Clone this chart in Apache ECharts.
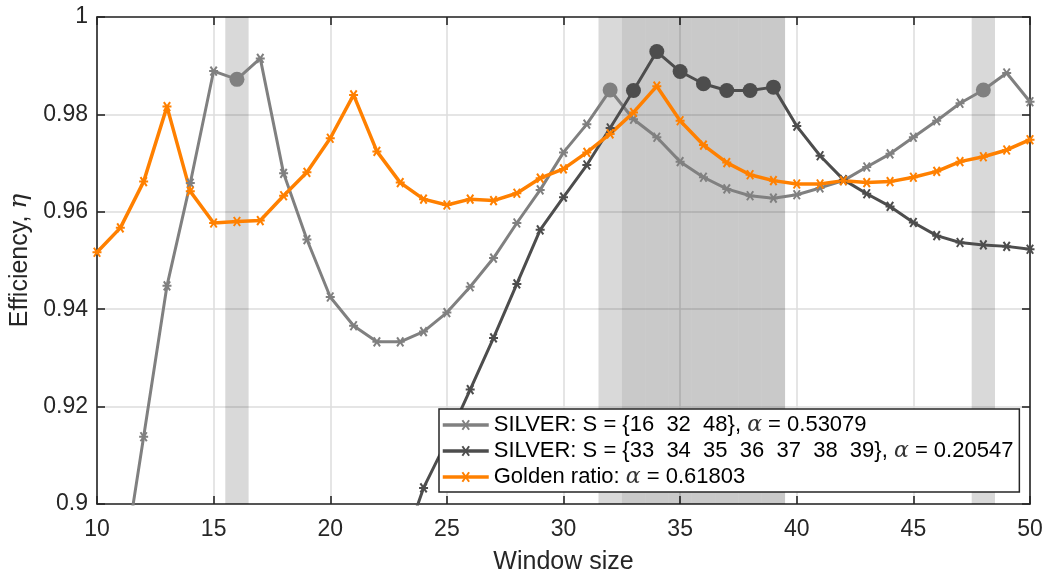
<!DOCTYPE html>
<html>
<head>
<meta charset="utf-8">
<script src="https://cdn.jsdelivr.net/npm/echarts@6/dist/echarts.min.js"></script>
<style>
  html, body { margin: 0; padding: 0; background: #fff; }
  #chart { width: 1044px; height: 571px; }
</style>
</head>
<body>
<div id="chart"></div>
<script>
const windowSize = [10, 11, 12, 13, 14, 15, 16, 17, 18, 19, 20, 21, 22, 23, 24, 25, 26, 27, 28, 29,
  30, 31, 32, 33, 34, 35, 36, 37, 38, 39, 40, 41, 42, 43, 44, 45, 46, 47, 48, 49, 50];

const silverA = [0.852, 0.883, 0.9138, 0.9448, 0.9659, 0.9889, 0.9872, 0.9915, 0.9679, 0.9543,
  0.9425, 0.9366, 0.9333, 0.9333, 0.9354, 0.9393, 0.9446, 0.9505, 0.9577, 0.9645,
  0.9722, 0.978, 0.985, 0.979, 0.9753, 0.9703, 0.9671, 0.9647, 0.9633, 0.9628,
  0.9635, 0.9649, 0.9664, 0.9692, 0.9719, 0.9753, 0.9787, 0.9823, 0.985, 0.9885, 0.9826];

const silverB = [null, null, null, null, null, null, null, null, null, null,
  null, null, 0.876, 0.8895, 0.9033, 0.913, 0.9235, 0.9341, 0.9452, 0.9563,
  0.963, 0.9696, 0.9772, 0.9849, 0.9929, 0.9888, 0.9863, 0.9849, 0.9849, 0.9856,
  0.9776, 0.9715, 0.9666, 0.9637, 0.9611, 0.9578, 0.9551, 0.9537, 0.9532, 0.9529, 0.9523];

const golden = [0.9517, 0.9567, 0.9662, 0.9816, 0.9642, 0.9577, 0.958, 0.9582, 0.9633, 0.9681,
  0.9751, 0.984, 0.9724, 0.966, 0.9626, 0.9614, 0.9626, 0.9623, 0.9638, 0.9669,
  0.9688, 0.9722, 0.976, 0.9804, 0.9858, 0.9787, 0.9737, 0.9701, 0.9676, 0.9664,
  0.9657, 0.9657, 0.9664, 0.966, 0.9662, 0.9671, 0.9683, 0.9703, 0.9713, 0.9727, 0.9748];

const setA = [16, 32, 48];
const setB = [33, 34, 35, 36, 37, 38, 39];

const names = [
  'SILVER: S = {16  32  48}, α = 0.53079',
  'SILVER: S = {33  34  35  36  37  38  39}, α = 0.20547',
  'Golden ratio: α = 0.61803'
];
const colors = ['#808080', '#4d4d4d', '#ff8000'];

const star = 'path://M0,5L10,5M1.5,1.5L8.5,8.5M1.5,8.5L8.5,1.5';
const font = '"Liberation Sans", Arial, Helvetica, sans-serif';
const serif = '"DejaVu Serif", "Liberation Serif", serif';
const ink = '#262626';

function points(vals, set, color) {
  return windowSize.map((x, i) => {
    if (set && set.includes(x)) {
      return { value: [x, vals[i]], symbol: 'circle', symbolSize: 15,
        itemStyle: { color: color, borderWidth: 0 } };
    }
    return [x, vals[i]];
  });
}

function bands(set, color) {
  return set.map((s) => [
    { xAxis: s - 0.5, itemStyle: { color: color } },
    { xAxis: s + 0.5 }
  ]);
}

function lineSeries(name, vals, set, color, width) {
  return {
    name: name,
    type: 'line',
    data: points(vals, set, color),
    symbol: star,
    symbolSize: 9,
    showAllSymbol: true,
    itemStyle: { color: color, borderColor: color, borderWidth: 2 },
    lineStyle: { color: color, width: width },
    z: 3
  };
}

const chart = echarts.init(document.getElementById('chart'));

chart.setOption({
  animation: false,
  backgroundColor: '#fff',
  textStyle: { fontFamily: font },
  grid: { left: 97, right: 14, top: 17, bottom: 67, outerBoundsMode: 'none', containLabel: false },
  legend: {
    data: names,
    left: 439,
    top: 409,
    orient: 'vertical',
    backgroundColor: '#fff',
    borderColor: ink,
    borderWidth: 1.5,
    borderRadius: 0,
    padding: [5, 6, 4, 2],
    itemGap: 4,
    itemWidth: 46,
    itemHeight: 12,
    lineStyle: { width: 3.5 },
    formatter: (n) => n.replace('α', '{a|α}'),
    textStyle: {
      fontFamily: font, fontSize: 22, color: '#000', lineHeight: 22,
      rich: { a: { fontFamily: serif, fontStyle: 'italic', fontSize: 22, color: '#333' } }
    }
  },
  xAxis: [
    {
      type: 'value', min: 10, max: 50, interval: 5,
      name: 'Window size', nameLocation: 'middle', nameGap: 46,
      nameTextStyle: { fontSize: 25, color: ink, fontFamily: font },
      axisLine: { lineStyle: { color: ink, width: 1.6 } },
      axisTick: { inside: true, length: 8, lineStyle: { color: ink, width: 1.6 } },
      axisLabel: { fontSize: 23, color: ink, margin: 14, fontFamily: font },
      splitLine: { show: true, lineStyle: { color: '#dcdcdc', width: 1.5 } }
    },
    {
      type: 'value', min: 10, max: 50, interval: 5, position: 'top',
      axisLine: { lineStyle: { color: ink, width: 1.6 } },
      axisTick: { inside: true, length: 8, lineStyle: { color: ink, width: 1.6 } },
      axisLabel: { show: false },
      splitLine: { show: false }
    }
  ],
  yAxis: [
    {
      type: 'value', min: 0.9, max: 1, interval: 0.02,
      name: 'Efficiency, {e|η}', nameLocation: 'middle', nameGap: 62,
      nameTextStyle: {
        fontSize: 25, color: ink, fontFamily: font,
        rich: { e: { fontFamily: serif, fontStyle: 'italic', fontSize: 25, color: ink } }
      },
      axisLine: { lineStyle: { color: ink, width: 1.6 } },
      axisTick: { inside: true, length: 8, lineStyle: { color: ink, width: 1.6 } },
      axisLabel: { fontSize: 23, color: ink, margin: 9, fontFamily: font,
        formatter: (v) => String(+v.toFixed(2)) },
      splitLine: { show: true, lineStyle: { color: '#dcdcdc', width: 1.5 } }
    },
    {
      type: 'value', min: 0.9, max: 1, interval: 0.02, position: 'right',
      axisLine: { show: true, lineStyle: { color: ink, width: 1.6 } },
      axisTick: { show: true, inside: true, length: 8, lineStyle: { color: ink, width: 1.6 } },
      axisLabel: { show: false },
      splitLine: { show: false }
    }
  ],
  series: [
    {
      name: 'bands',
      type: 'line',
      data: [],
      z: 1,
      markArea: {
        silent: true,
        data: bands(setA, 'rgba(0,0,0,0.15)').concat(bands(setB, 'rgba(0,0,0,0.21)'))
      }
    },
    lineSeries(names[0], silverA, setA, colors[0], 3),
    lineSeries(names[1], silverB, setB, colors[1], 3),
    lineSeries(names[2], golden, null, colors[2], 3.5)
  ]
});
</script>
</body>
</html>
